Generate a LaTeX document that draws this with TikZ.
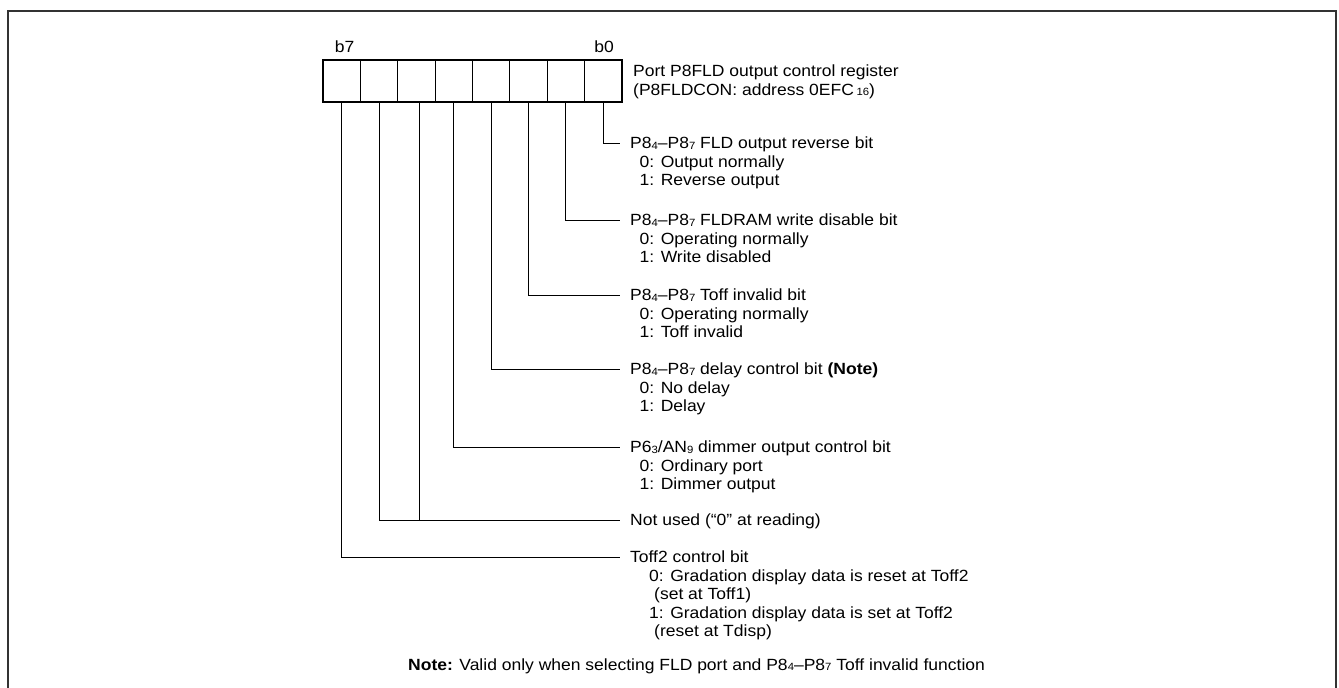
\documentclass[tikz,border=0pt]{standalone}
\usepackage{fontspec}
\setmainfont{Liberation Sans}[FakeStretch=1.08]
\newcommand\sbs[1]{\raisebox{-0.3pt}{\fontsize{10.5}{10.5}\selectfont #1}}
\begin{document}
\begin{tikzpicture}[x=1pt,y=-1pt,
  font=\fontsize{16.2}{18.5}\selectfont,
  cell/.style={draw=black, line width=1.1pt, minimum width=37.375pt, minimum height=42pt, inner sep=0pt},
  desc/.style={anchor=north west, inner sep=0pt, align=left},
  conn/.style={draw=black, line width=1pt},
  frame/.style={draw=black!80, line width=2pt}]
\useasboundingbox (0,0) rectangle (1339,688);
\draw[frame] (8,690) -- (8,11) -- (1336,11) -- (1336,690);
% register cells
\foreach \i in {0,...,7}{
  \node[cell] (c\i) at ({341.69+37.375*(7-\i)},81) {};
}
\node[anchor=base, inner sep=0pt] (lb7) at (344.5,52.5) {b7};
\node[anchor=base, inner sep=0pt] (lb0) at (604,52.5) {b0};
\node[desc] (title) at (633,65) {Port P8FLD output control register\\(P8FLDCON: address 0EFC\,\sbs{16})};
% descriptions
\node[desc] (d0) at (630,137) {P8\sbs{4}–P8\sbs{7} FLD output reverse bit\\\hspace*{9.5pt}0: Output normally\\\hspace*{9.5pt}1: Reverse output};
\node[desc] (d1) at (630,214) {P8\sbs{4}–P8\sbs{7} FLDRAM write disable bit\\\hspace*{9.5pt}0: Operating normally\\\hspace*{9.5pt}1: Write disabled};
\node[desc] (d2) at (630,289) {P8\sbs{4}–P8\sbs{7} Toff invalid bit\\\hspace*{9.5pt}0: Operating normally\\\hspace*{9.5pt}1: Toff invalid};
\node[desc] (d3) at (630,363) {P8\sbs{4}–P8\sbs{7} delay control bit \textbf{(Note)}\\\hspace*{9.5pt}0: No delay\\\hspace*{9.5pt}1: Delay};
\node[desc] (d4) at (630,441) {P6\sbs{3}/AN\sbs{9} dimmer output control bit\\\hspace*{9.5pt}0: Ordinary port\\\hspace*{9.5pt}1: Dimmer output};
\node[desc] (d56) at (630,514) {Not used (“0” at reading)};
\node[desc] (d7) at (630,551) {Toff2 control bit\\\hspace*{19pt}0: Gradation display data is reset at Toff2\\\hspace*{24pt}(set at Toff1)\\\hspace*{19pt}1: Gradation display data is set at Toff2\\\hspace*{24pt}(reset at Tdisp)};
\node[anchor=base west, inner sep=0pt] (note) at (408,670.5) {\textbf{Note:} Valid only when selecting FLD port and P8\sbs{4}–P8\sbs{7} Toff invalid function};
% connector ends
\coordinate (e0) at (620,143);
\coordinate (e1) at (620,220);
\coordinate (e2) at (620,295);
\coordinate (e3) at (620,369);
\coordinate (e4) at (620,447);
\coordinate (e56) at (620,520);
\coordinate (e7) at (620,557);
% connectors
\draw[conn] (c0.south) |- (e0);
\draw[conn] (c1.south) |- (e1);
\draw[conn] (c2.south) |- (e2);
\draw[conn] (c3.south) |- (e3);
\draw[conn] (c4.south) |- (e4);
\draw[conn] (c6.south) |- (e56);
\draw[conn] ([xshift=3.5pt]c5.south) -- ([xshift=3.5pt]c5.south |- e56);
\draw[conn] (c7.south) |- (e7);
\end{tikzpicture}
\end{document}
